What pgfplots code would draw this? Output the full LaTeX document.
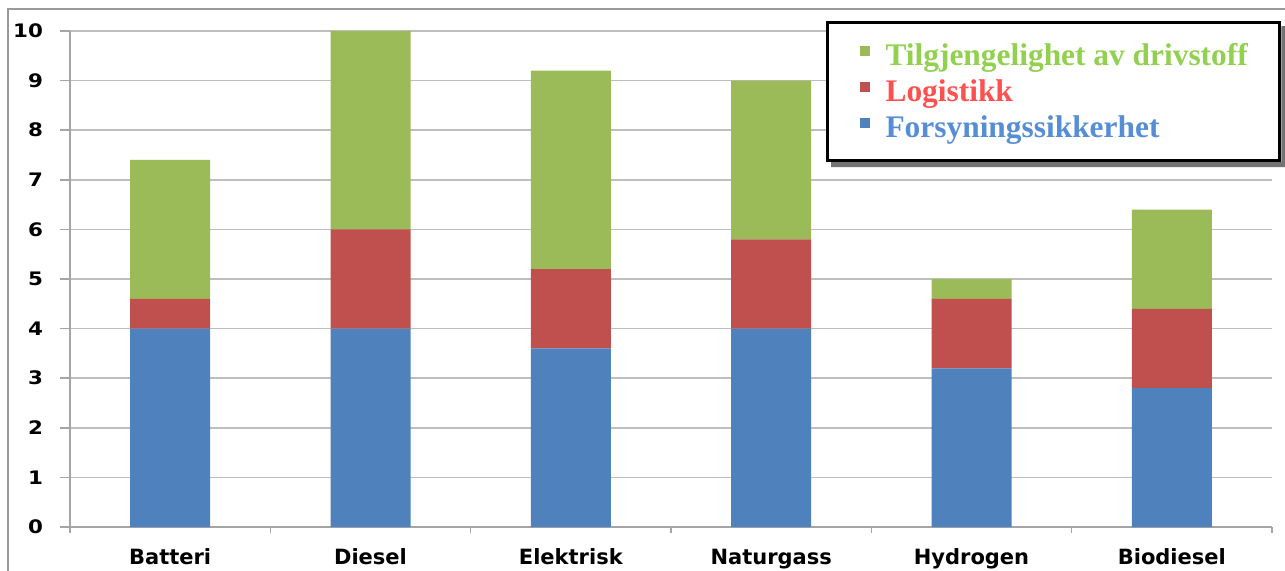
\documentclass[border=0pt]{standalone}
\usepackage{pgfplots}
\pgfplotsset{compat=1.18}
\usepackage{fontspec}
\newfontfamily\tickfont{DejaVu Sans}[FakeStretch=1.15]
\newfontfamily\catfont{DejaVu Sans}
\newfontfamily\legfont{Liberation Serif}
\definecolor{cblue}{RGB}{79,129,189}
\definecolor{cred}{RGB}{192,80,77}
\definecolor{cgreen}{RGB}{155,187,89}
\definecolor{lgreen}{RGB}{146,208,80}
\definecolor{lred}{RGB}{255,80,80}
\definecolor{lblue}{RGB}{85,142,213}
\definecolor{gridgray}{RGB}{190,190,190}
\definecolor{axisgray}{RGB}{165,165,165}
\begin{document}
\begin{tikzpicture}
\useasboundingbox (-35pt,-21.5pt) rectangle (607.5pt,263.5pt);
\begin{axis}[
  at={(0,0)}, anchor=south west, scale only axis,
  width=601pt, height=248pt,
  xmin=-0.5, xmax=5.5, ymin=0, ymax=10,
  ybar stacked, bar width=40pt,
  xtick={0,...,5},
  xticklabels={Batteri,Diesel,Elektrisk,Naturgass,Hydrogen,Biodiesel},
  minor xtick={-0.5,0.5,...,5.5},
  ytick={0,...,10},
  tick align=outside,
  major tick length=5pt, minor tick length=3pt,
  major x tick style={draw=none},
  minor x tick style={draw=axisgray, line width=0.8pt},
  major y tick style={draw=axisgray, line width=0.8pt},
  ymajorgrids, grid style={draw=gridgray, line width=0.8pt},
  axis x line*=bottom, axis y line*=left,
  axis line style={-, draw=axisgray, line width=0.8pt},
  /pgf/number format/assume math mode=true,
  yticklabel style={font=\tickfont\bfseries\fontsize{9.3}{10}\selectfont, xshift=-5pt},
  xticklabel style={font=\catfont\bfseries\fontsize{10.5}{12}\selectfont, yshift=-2pt,
    text height=8pt, text depth=2.5pt},
  legend style={name=legbox, at={(rel axis cs:0.629,1.02)}, anchor=north west,
    draw=black, line width=1.5pt, fill=white,
    inner xsep=16pt, inner ysep=9pt,
    font=\legfont\bfseries\fontsize{15.7}{18}\selectfont,
    row sep=3pt, column sep=8pt,
    nodes={inner sep=0pt, text height=12.5pt, text depth=2.5pt}},
  legend cell align=left,
  reverse legend,
  legend image code/.code={\fill[#1] (0pt,0pt) rectangle (5pt,5pt);},
]
\addplot[fill=cblue, draw=none] coordinates {(0,4) (1,4) (2,3.6) (3,4) (4,3.2) (5,2.8)};
\addlegendentry{\textcolor{lblue}{Forsyningssikkerhet}}
\addplot[fill=cred, draw=none] coordinates {(0,0.6) (1,2) (2,1.6) (3,1.8) (4,1.4) (5,1.6)};
\addlegendentry{\textcolor{lred}{Logistikk}}
\addplot[fill=cgreen, draw=none] coordinates {(0,2.8) (1,4) (2,4) (3,3.2) (4,0.4) (5,2.0)};
\addlegendentry{\textcolor{lgreen}{Tilgjengelighet av drivstoff}}
\end{axis}
\fill[black!55] ([yshift=-2.5pt]legbox.north east) -- ++(2.5pt,0pt)
  -- ([xshift=2.5pt,yshift=-2.5pt]legbox.south east)
  -- ([xshift=2.5pt,yshift=-2.5pt]legbox.south west)
  -- ([xshift=2.5pt]legbox.south west)
  -- (legbox.south east) -- cycle;
\draw[color=gray!80, line width=1pt] (-31pt,-40pt) |- (700pt,259pt);
\end{tikzpicture}
\end{document}
